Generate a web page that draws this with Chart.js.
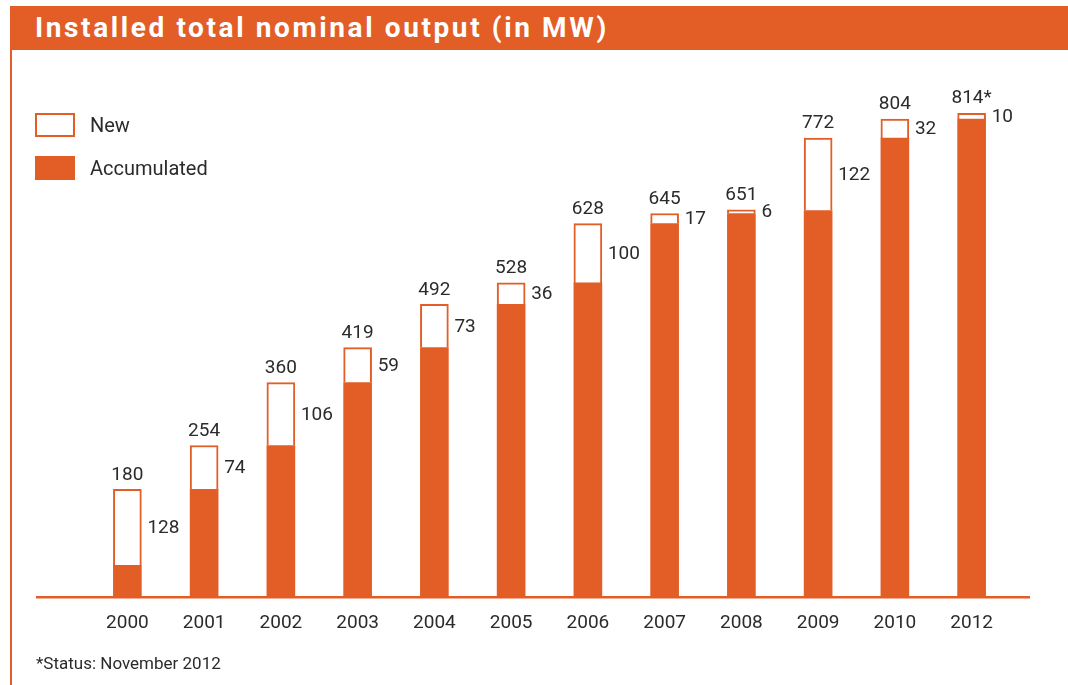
<!DOCTYPE html>
<html>
<head>
<meta charset="utf-8">
<script src="https://cdn.jsdelivr.net/npm/chart.js@4/dist/chart.umd.min.js"></script>
<style>
  body { margin: 0; background: #fff; font-family: Roboto, sans-serif; }
  #wrap { position: relative; width: 1068px; height: 685px; overflow: hidden; }
  #titlebar { position: absolute; left: 10px; top: 6px; width: 1058px; height: 44px; background: #e35d26; }
  #titlebar span { position: absolute; left: 25px; top: 5px; color: #fff; font-weight: bold; font-size: 28px; letter-spacing: 2.6px; }
  #leftline { position: absolute; left: 10px; top: 50px; width: 2px; height: 635px; background: #e35d26; }
  .leg { position: absolute; left: 35px; font-size: 20px; color: #2b2b2b; }
  .leg i { position: absolute; left: 0; top: 0; width: 40px; height: 24px; box-sizing: border-box; }
  .leg b { position: absolute; left: 55px; top: 0px; font-weight: normal; white-space: nowrap; }
  #note { position: absolute; left: 36px; top: 653px; font-size: 17px; color: #2b2b2b; }
  canvas { position: absolute; left: 0; top: 0; }
</style>
</head>
<body>
<div id="wrap">
  <canvas id="myChart" width="1068" height="685"></canvas>
  <div id="titlebar"><span>Installed total nominal output (in MW)</span></div>
  <div id="leftline"></div>
  <div class="leg" style="top:113px"><i style="border:2.5px solid #e35d26;background:#fff"></i><b>New</b></div>
  <div class="leg" style="top:156px"><i style="background:#e35d26"></i><b>Accumulated</b></div>
  <div id="note">*Status: November 2012</div>
</div>
<script>
var years = ['2000', '2001', '2002', '2003', '2004', '2005', '2006', '2007', '2008', '2009', '2010', '2012'];
var totalOutput = [180, 254, 360, 419, 492, 528, 628, 645, 651, 772, 804, 814];
var newOutput = [128, 74, 106, 59, 73, 36, 100, 17, 6, 122, 32, 10];
var totalMarks = ['', '', '', '', '', '', '', '', '', '', '', '*'];

var orange = '#e35d26';
var textColor = '#2b2b2b';
var labelFont = '19px Roboto';

var accumulated = totalOutput.map(function (t, i) { return t - newOutput[i]; });

// orange baseline, wider than the bar area
var baseLine = {
    id: 'baseLine',
    afterDatasetsDraw: function (chart) {
        var c = chart.ctx;
        var y = chart.chartArea.bottom;
        c.save();
        c.strokeStyle = orange;
        c.lineWidth = 2.5;
        c.beginPath();
        c.moveTo(36, y + 1);
        c.lineTo(1030, y + 1);
        c.stroke();
        c.restore();
    }
};

// total above each bar, new value to the right
var valueLabels = {
    id: 'valueLabels',
    afterDatasetsDraw: function (chart) {
        var c = chart.ctx;
        var meta = chart.getDatasetMeta(1);
        c.save();
        c.font = labelFont;
        c.fillStyle = textColor;
        meta.data.forEach(function (bar, i) {
            c.textAlign = 'center';
            c.textBaseline = 'bottom';
            c.fillText(totalOutput[i] + totalMarks[i], bar.x, bar.y - 5);
            c.textAlign = 'left';
            c.textBaseline = 'middle';
            c.fillText(newOutput[i], bar.x + bar.width / 2 + 6, (bar.y + bar.base) / 2 + 1);
        });
        c.restore();
    }
};

var ctx = document.getElementById('myChart').getContext('2d');
var myChart = new Chart(ctx, {
    type: 'bar',
    data: {
        labels: years,
        datasets: [{
            label: 'Accumulated',
            data: accumulated,
            backgroundColor: orange,
            borderWidth: 0,
            barThickness: 28
        }, {
            label: 'New',
            data: newOutput,
            backgroundColor: '#ffffff',
            borderColor: orange,
            borderWidth: 2,
            barThickness: 28
        }]
    },
    options: {
        responsive: false,
        animation: false,
        layout: {
            padding: { left: 89, right: 58, top: 80, bottom: 42 }
        },
        plugins: {
            legend: { display: false },
            tooltip: { enabled: false }
        },
        scales: {
            x: {
                stacked: true,
                grid: { display: false },
                border: { display: false },
                ticks: {
                    color: textColor,
                    font: { family: 'Roboto', size: 19 },
                    padding: 8
                }
            },
            y: {
                stacked: true,
                display: false,
                min: 0,
                max: 870
            }
        }
    },
    plugins: [baseLine, valueLabels]
});
</script>
</body>
</html>
